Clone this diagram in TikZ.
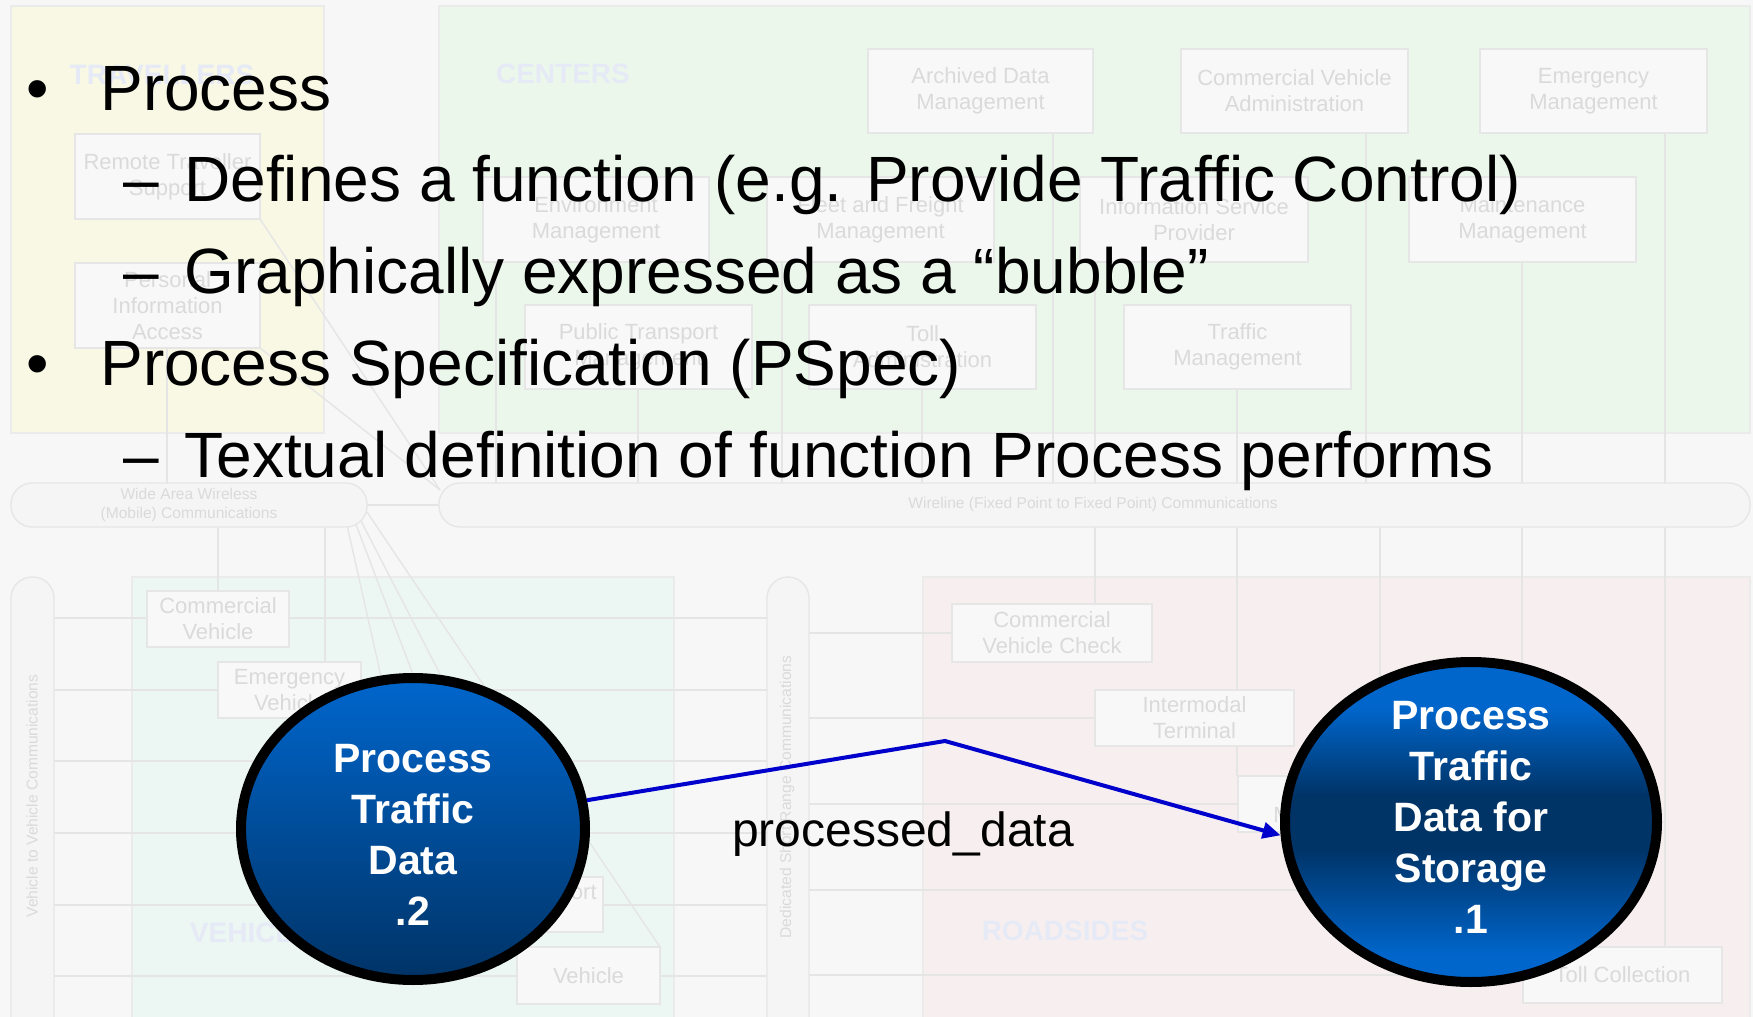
\documentclass[tikz,border=0pt]{standalone}
\usepackage{fontspec}
\setmainfont{Liberation Sans}
\usetikzlibrary{shapes.geometric,arrows.meta}

\definecolor{pagebg}{HTML}{F7F7F7}
\definecolor{travfill}{HTML}{F8F8E5}
\definecolor{centfill}{HTML}{ECF7EC}
\definecolor{vehfill}{HTML}{ECF7F3}
\definecolor{roadfill}{HTML}{F7EFEF}
\definecolor{zoneedge}{HTML}{EBEBEB}
\definecolor{boxfill}{HTML}{F8F8F8}
\definecolor{pillfill}{HTML}{F5F5F5}
\definecolor{boxedge}{HTML}{E6E6E6}
\definecolor{boxtext}{HTML}{DADADA}
\definecolor{wire}{HTML}{E5E5E5}
\definecolor{zonetext}{HTML}{E6EAF6}
\definecolor{bubblelight}{HTML}{0066CC}
\definecolor{bubbledark}{HTML}{003366}
\definecolor{flowblue}{HTML}{0000CC}

% light at the rim, dark band across the middle
\pgfdeclareverticalshading{bandshade}{100bp}{color(0bp)=(bubblelight); color(29bp)=(bubblelight);
  color(46bp)=(bubbledark); color(54bp)=(bubbledark); color(68bp)=(bubblelight); color(100bp)=(bubblelight)}

\tikzset{
  zone/.style={draw=zoneedge, line width=0.6pt},
  sysbox/.style={draw=boxedge, fill=boxfill, line width=0.7pt, inner sep=0pt,
    align=center, text=boxtext, font=\fontsize{11}{13}\selectfont},
  pill/.style={draw=boxedge, fill=pillfill, line width=0.7pt, rounded corners=10.5pt},
  pilltext/.style={text=boxtext, align=center, inner sep=0pt,
    font=\fontsize{7.8}{9.5}\selectfont},
  zonelabel/.style={text=zonetext, inner sep=0pt, font=\bfseries\fontsize{14}{16}\selectfont},
  link/.style={draw=wire, line width=0.7pt},
  bulletline/.style={anchor=base west, inner sep=0pt, font=\fontsize{32}{40}\selectfont},
  subline/.style={anchor=base west, inner sep=0pt, font=\fontsize{32}{38}\selectfont},
  bubble/.style={ellipse, draw=black, line width=5pt, inner sep=0pt},
  bubbletext/.style={text=white, align=center, inner sep=0pt,
    font=\bfseries\fontsize{20.5}{25.5}\selectfont},
  flow/.style={draw=flowblue, line width=2pt, line join=miter,
    -{Triangle[length=9pt,width=8pt]}},
  flowlabel/.style={inner sep=0pt, font=\fontsize{24}{28}\selectfont}
}

% subsystem box given by its corners (in pixel units of the picture)
\newcommand\placebox[6]{%
  \node[sysbox, minimum width={(#4-#2)*0.5pt}, minimum height={(#5-#3)*0.5pt}]
    (#1) at ({(#2+#4)/2},{(#3+#5)/2}) {#6};}

\begin{document}
\begin{tikzpicture}[x=0.5pt,y=-0.5pt]
\useasboundingbox (0,0) rectangle (1753,1017);
\fill[pagebg] (0,0) rectangle (1753,1017);

\begin{scope}
\clip (0,0) rectangle (1753,1017);

% ---- faded architecture backdrop: zones ----
\draw[zone, fill=travfill] (11,6) rectangle (324,433);
\draw[zone, fill=centfill] (439,6) rectangle (1750,433);
\draw[zone, fill=vehfill] (132,577) rectangle (674,1030);
\draw[zone, fill=roadfill] (923,577) rectangle (1750,1030);

% ---- backdrop interconnects ----
% travellers
\draw[link] (167,348) -- (167,483);
\draw[link] (260,219) -- (440,490);
\draw[link] (260,348) -- (440,490);
% centers down to the wireline
\draw[link] (496,262) -- (496,483);
\draw[link] (638,389) -- (638,483);
\draw[link] (782,262) -- (782,483);
\draw[link] (922,389) -- (922,483);
\draw[link] (1053,133) -- (1053,483);
\draw[link] (1095,262) -- (1095,604);
\draw[link] (1237,389) -- (1237,776);
\draw[link] (1366,133) -- (1366,483);
\draw[link] (1380,527) -- (1380,800);
\draw[link] (1522,262) -- (1522,800);
\draw[link] (1665,133) -- (1665,947);
% wireless to wireline
\draw[link] (367,505) -- (440,505);
% wireless down to the vehicles
\draw[link] (218,527) -- (218,591);
\draw[link] (325,527) -- (325,662);
\draw[link] (347,525) -- (420,850);
\draw[link] (355,522) -- (480,850);
\draw[link] (360,519) -- (531,850);
\draw[link] (367,512) -- (660,947);
% vehicle to vehicle / short range rows
\foreach \yy in {618,690,761,833,905,976}
  \draw[link] (54,\yy) -- (767,\yy);
\draw[link] (809,633) -- (952,633);
\draw[link] (809,718) -- (1095,718);
\draw[link] (809,804) -- (1238,804);
\draw[link] (809,890) -- (1400,890);
\draw[link] (809,975) -- (1523,975);

% ---- communication pills ----
\draw[pill] (11,483) rectangle (367,527);
\draw[pill] (439,483) rectangle (1750,527);
\draw[pill] (11,577) rectangle (54,1045);
\draw[pill] (767,577) rectangle (809,1045);
\node[pilltext] (waw) at (189,505) {Wide Area Wireless\\(Mobile) Communications};
\node[pilltext] (wl) at (1093,504) {Wireline (Fixed Point to Fixed Point) Communications};
\node[pilltext, rotate=90] (v2v) at (32,796) {Vehicle to Vehicle Communications};
\node[pilltext, rotate=90] (dsrc) at (787,797) {Dedicated Short Range Communications};

% ---- subsystem boxes ----
\placebox{rts}{75}{134}{260}{219}{Remote Traveller\\Support}
\placebox{pia}{75}{263}{260}{348}{Personal\\Information\\Access}
\placebox{adm}{868}{49}{1093}{133}{Archived Data\\Management}
\placebox{cva}{1181}{49}{1408}{133}{Commercial Vehicle\\Administration}
\placebox{emm}{1480}{49}{1707}{133}{Emergency\\Management}
\placebox{env}{483}{177}{709}{262}{Environment\\Management}
\placebox{ffm}{767}{177}{994}{262}{Fleet and Freight\\Management}
\placebox{isp}{1080}{177}{1308}{262}{Information Service\\Provider}
\placebox{mtm}{1409}{177}{1636}{262}{Maintenance\\Management}
\placebox{ptm}{525}{305}{752}{389}{Public Transport\\Management}
\placebox{tad}{809}{305}{1036}{389}{Toll\\Administration}
\placebox{trm}{1124}{305}{1351}{389}{Traffic\\Management}
\placebox{cv}{147}{591}{289}{647}{Commercial\\Vehicle}
\placebox{ev}{218}{662}{361}{718}{Emergency\\Vehicle}
\placebox{ptv}{431}{877}{603}{932}{Public Transport\\Vehicle}
\placebox{veh}{517}{947}{660}{1004}{Vehicle}
\placebox{cvc}{952}{604}{1152}{662}{Commercial\\Vehicle Check}
\placebox{imt}{1095}{690}{1294}{746}{Intermodal\\Terminal}
\placebox{pkm}{1238}{776}{1437}{832}{Parking\\Management}
\placebox{tcl}{1523}{947}{1722}{1003}{Toll Collection}

% ---- zone titles ----
\node[zonelabel] (ztrav) at (162,75) {TRAVELLERS};
\node[zonelabel] (zcent) at (563,74) {CENTERS};
\node[zonelabel] (zveh) at (260,933) {VEHICLES};
\node[zonelabel] (zroad) at (1065,931) {ROADSIDES};
\end{scope}

% ---- slide text ----
\node[bulletline] (m1) at (26,110) {•};
\node[bulletline] (l1) at (100,110) {Process};
\node[subline] (s1) at (123,201) {–};
\node[subline] (l2) at (184,201) {Defines a function (e.g. Provide Traffic Control)};
\node[subline] (s2) at (123,293) {–};
\node[subline] (l3) at (184,293) {Graphically expressed as a “bubble”};
\node[bulletline] (m2) at (26,385) {•};
\node[bulletline] (l4) at (100,385) {Process Specification (PSpec)};
\node[subline] (s3) at (123,477) {–};
\node[subline] (l5) at (184,477) {Textual definition of function Process performs};

% ---- process bubbles ----
\node[bubble, minimum width=172pt, minimum height=151pt,
      top color=bubblelight, bottom color=bubbledark] (pb2) at (413,829) {};
\node[bubbletext] (pb2t) at (413,835) {Process\\Traffic\\Data\\.2};

\node[bubble, minimum width=186pt, minimum height=160pt, shading=bandshade] (pb1) at (1471,822) {};
\node[bubbletext] (pb1t) at (1471,817) {Process\\Traffic\\Data for\\Storage\\.1};

% ---- data flow ----
\coordinate (bend) at (945,741);
\draw[flow] (pb2) -- (bend) -- (pb1.184);
\node[flowlabel] (flowname) at (903,834) {processed\_data};
\end{tikzpicture}
\end{document}
